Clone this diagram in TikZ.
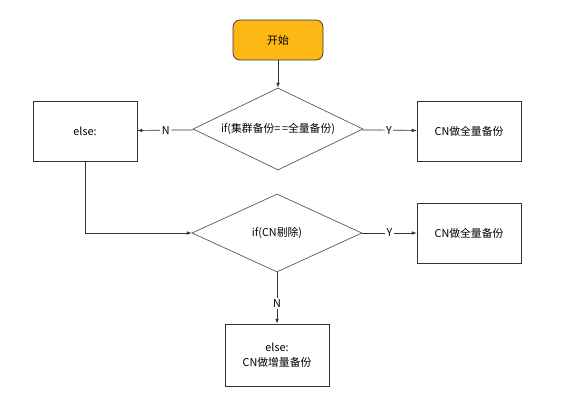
\documentclass[tikz,border=0pt]{standalone}
\usepackage{fontspec}
\newfontfamily\cjk{Noto Sans CJK SC}
\usetikzlibrary{shapes.geometric}
\definecolor{startorange}{RGB}{253,183,20}
\begin{document}
\begin{tikzpicture}[x=1pt, y=-1pt]
    \tikzstyle{every node}=[font=\cjk\fontsize{10.8}{15}\selectfont, align=center]
    \tikzset{
        box/.style={draw=black!80, line width=0.7pt, minimum width=104pt, minimum height=60pt, inner sep=0pt},
        start/.style={box, rounded corners=7pt, fill=startorange, minimum width=90pt, minimum height=40pt},
        cond/.style={diamond, aspect=2.5, draw=black!65, line width=0.7pt, minimum width=170pt, minimum height=82pt, inner sep=0pt},
        line/.style={draw=black!80, line width=0.7pt, -latex},
        lbl/.style={fill=white, inner sep=1.5pt}
        }
    \useasboundingbox (0,0) rectangle (572,400);

    %start
    \node (start) [start] at (278,40) {开始};

    %first check
    \node (cond1) [cond] at (278,129) {if(集群备份=\,=全量备份)};
    \node (else1) [box] at (85,131) {else:};
    \node (full1) [box] at (469,131) {CN做全量备份};

    %second check
    \node (cond2) [cond, minimum height=78pt] at (277,233) {if(CN剔除)};
    \node (full2) [box] at (469,233) {CN做全量备份};
    \node (inc) [box, minimum height=62pt] at (277,355) {else:\\CN做增量备份};

    \draw[line] (start) -- (cond1);
    \draw[line] (cond1) -- node[lbl] {N} (else1);
    \draw[line] (cond1) -- node[lbl] {Y} (full1);

    \draw[line] (else1) |- (cond2);
    \draw[line] (cond2) -- node[lbl] {Y} (full2);
    \draw[line] (cond2) -- node[lbl, pos=0.6] {N} (inc);
\end{tikzpicture}
\end{document}
